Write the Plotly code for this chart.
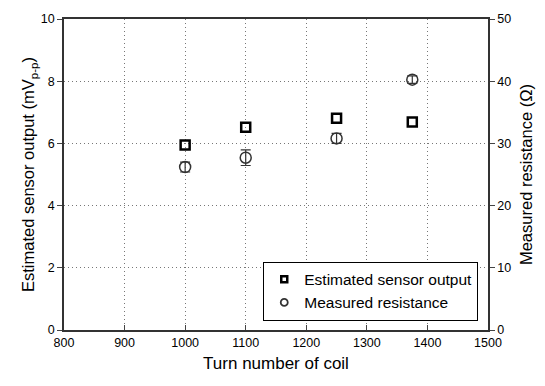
import plotly.graph_objects as go

turns = [1000, 1100, 1250, 1375]
sensor_output = [5.95, 6.52, 6.81, 6.69]
resistance = [26.2, 27.7, 30.8, 40.25]
resistance_err = [0.8, 1.25, 0.8, 0.6]

fig = go.Figure()
fig.add_trace(go.Scatter(
    x=turns, y=sensor_output, mode="markers", name="Estimated sensor output", showlegend=False,
    marker=dict(symbol="square-open", size=9, color="black", line=dict(width=2.5, color="black")),
    yaxis="y"))
fig.add_trace(go.Scatter(
    x=turns, y=resistance, mode="markers", name="Measured resistance", showlegend=False,
    marker=dict(symbol="circle-open", size=11, color="#333", line=dict(width=1.5, color="#333")),
    error_y=dict(type="data", array=resistance_err, color="#333", thickness=1.2, width=5),
    yaxis="y2"))
# legend entries with small symbols
fig.add_trace(go.Scatter(
    x=[None], y=[None], mode="markers", name="Estimated sensor output",
    marker=dict(symbol="square-open", size=6, color="black", line=dict(width=2.5, color="black"))))
fig.add_trace(go.Scatter(
    x=[None], y=[None], mode="markers", name="Measured resistance",
    marker=dict(symbol="circle-open", size=7, color="#333", line=dict(width=1.8, color="#333"))))

font = "Liberation Sans, Arial, sans-serif"
grid = dict(showgrid=True, gridcolor="#777", griddash="1px,3px", gridwidth=1)
fig.update_layout(
    width=545, height=386,
    margin=dict(l=64, r=53, t=12, b=56),
    paper_bgcolor="white", plot_bgcolor="white",
    font=dict(family=font, size=12.5, color="black"),
    showlegend=True,
    legend=dict(x=0.977, y=0.03, xanchor="right", yanchor="bottom",
                bgcolor="white", bordercolor="black", borderwidth=1,
                font=dict(size=15.5, family=font), tracegroupgap=0,
                itemsizing="trace", itemwidth=30),
    xaxis=dict(range=[800, 1500], dtick=100, tick0=800, ticks="inside", ticklen=5,
               showline=True, linecolor="#333", linewidth=1.5, mirror=True,
               title=dict(text="Turn number of coil", font=dict(size=17), standoff=8),
               zeroline=False, **grid),
    yaxis=dict(range=[0, 10], dtick=2, ticks="outside", ticklen=5,
               showline=True, linecolor="#333", linewidth=1.5,
               title=dict(text="Estimated sensor output (mV<sub>p-p</sub>)", font=dict(size=16.5), standoff=2),
               zeroline=False, **grid),
    yaxis2=dict(range=[0, 50], dtick=10, ticks="outside", ticklen=5, overlaying="y", side="right",
                showline=True, linecolor="#333", linewidth=1.5, showgrid=False, zeroline=False,
                title=dict(text="Measured resistance (Ω)", font=dict(size=16.5), standoff=10)),
)
fig.write_html("out.html")
